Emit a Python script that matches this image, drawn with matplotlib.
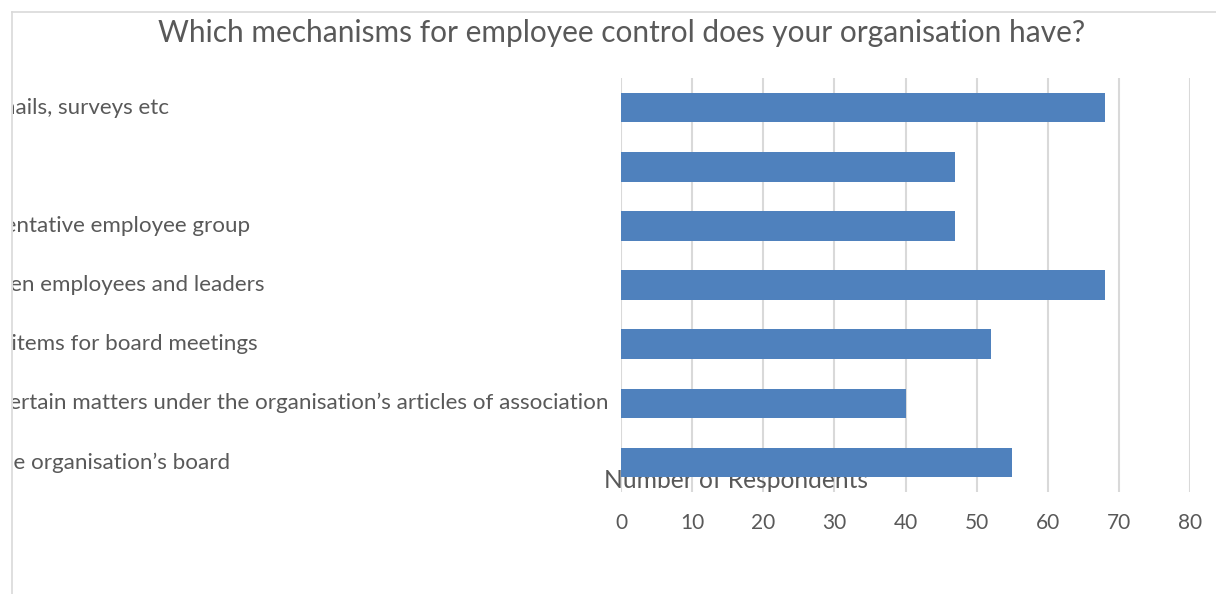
import matplotlib
matplotlib.use("Agg")
import matplotlib.pyplot as plt
from matplotlib.lines import Line2D
from matplotlib.transforms import Bbox, TransformedBbox, blended_transform_factory

# Survey answers (top to bottom as shown)
categories = [
    "Feedback from all employees by way of emails, surveys etc",
    "Trade union agreement",
    "Employees are consulted through a representative employee group",
    "Regular consultations and dialogues between employees and leaders",
    "Employees are allowed to propose agenda items for board meetings",
    "Employees have the right to decide upon certain matters under the organisation\u2019s articles of association",
    "Employees elect one or two members to the organisation\u2019s board",
]
respondents = [68, 47, 47, 68, 52, 40, 55]
x_ticks = [0, 10, 20, 30, 40, 50, 60, 70, 80]

title = "Which mechanisms for employee control does your organisation have?"
x_title = "Number of Respondents"

W, H, DPI = 1216, 594, 100
TEXT = "#595959"
GRID = "#d9d9d9"
BAR = "#4f81bd"
FONT = "Lato"

plt.rcParams["font.family"] = [FONT, "DejaVu Sans"]

fig = plt.figure(figsize=(W / DPI, H / DPI), dpi=DPI)
fig.patch.set_facecolor("white")

# plot area in pixel terms
left_px, right_px, top_px, bottom_px = 621, 1190, 78, 492
ax = fig.add_axes([left_px / W, 1 - bottom_px / H,
                   (right_px - left_px) / W, (bottom_px - top_px) / H])

ypos = list(range(len(categories)))
ax.barh(ypos, respondents, height=0.5, color=BAR, zorder=2)

ax.set_xlim(x_ticks[0], x_ticks[-1])
ax.set_ylim(len(categories) - 0.5, -0.5)
ax.set_xticks(x_ticks)
ax.set_xticklabels([str(t) for t in x_ticks])
ax.set_yticks([])
ax.tick_params(axis="x", length=0, pad=15, labelsize=15, labelcolor=TEXT)
ax.grid(axis="x", color=GRID, linewidth=1.5)
ax.set_axisbelow(True)
for s in ax.spines.values():
    s.set_visible(False)

# chart frame (light border along top and left)
fig.add_artist(Line2D([12 / W, 1], [1 - 12 / H, 1 - 12 / H],
                      transform=fig.transFigure, color=GRID, linewidth=1.2))
fig.add_artist(Line2D([12 / W, 12 / W], [0, 1 - 12 / H],
                      transform=fig.transFigure, color=GRID, linewidth=1.2))

# category labels, left aligned and clipped by the frame
clip = TransformedBbox(Bbox.from_extents(13 / W, 0, 1, 1), fig.transFigure)
trans = blended_transform_factory(fig.transFigure, ax.transData)
label_x0 = -0.3372
for y, lab in zip(ypos, categories):
    t = ax.text(label_x0, y, lab, transform=trans, ha="left", va="center",
                fontsize=16.1, color=TEXT, clip_on=True)
    t.set_clip_box(clip)

# axis title sits beneath the bars
ax.text(604 / W, 1 - 481 / H, x_title, transform=fig.transFigure,
        ha="left", va="center", fontsize=17.7, color=TEXT, zorder=1,
        clip_on=False)

fig.text(622 / W, 1 - 33 / H, title, ha="center", va="center",
         fontsize=21.5, color=TEXT)

fig.savefig("out.png", dpi=DPI)
